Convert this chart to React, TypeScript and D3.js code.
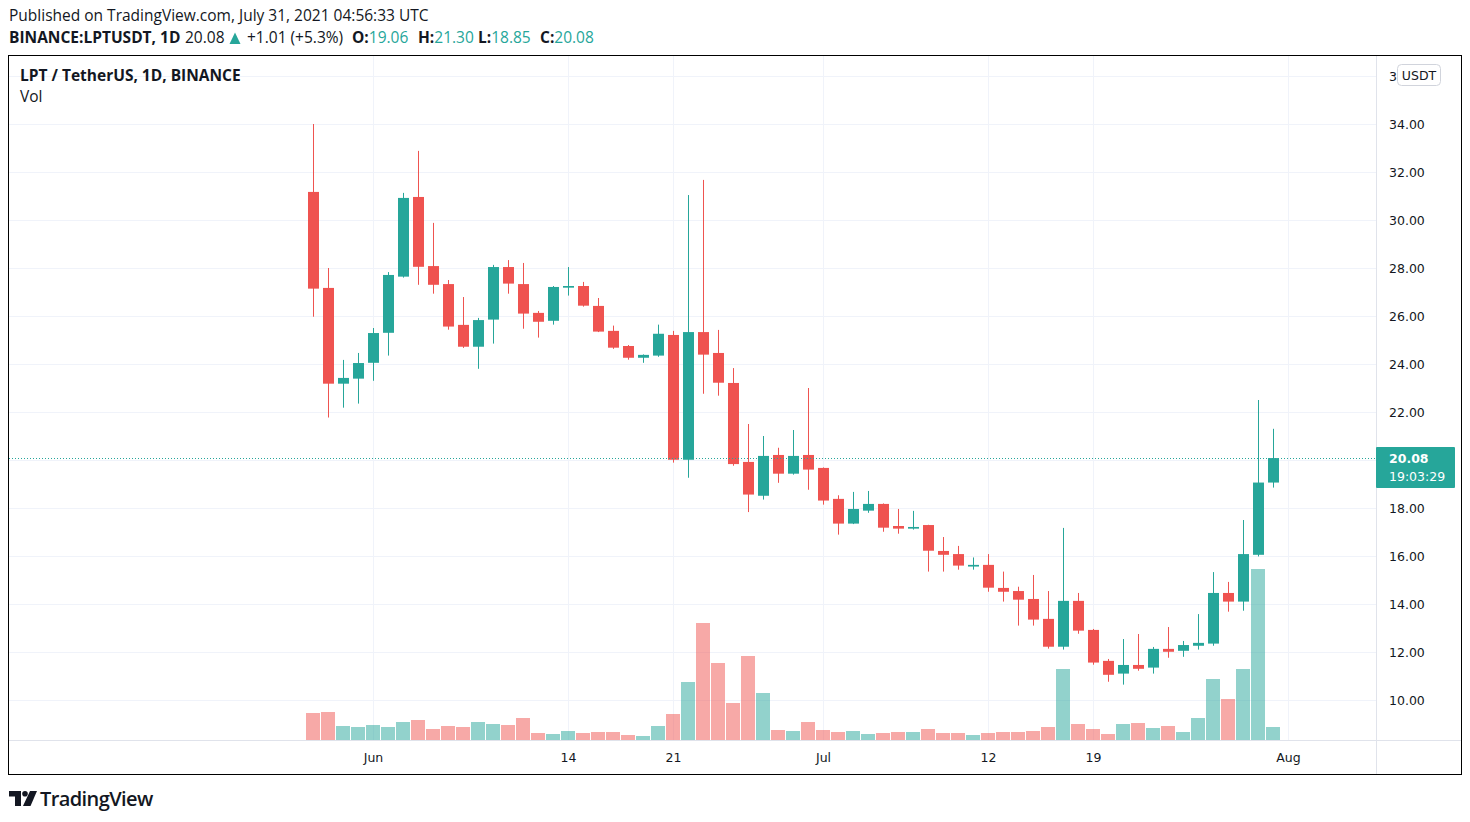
import React from "react";
import * as d3 from "d3";

const startDate = "2021-05-28";
const opens = [31.17,27.17,23.18,23.39,24.05,25.3,27.64,30.96,28.08,27.33,25.63,24.72,25.85,28.04,27.33,26.13,25.8,27.18,27.25,26.42,25.38,24.75,24.26,24.35,25.21,20.01,25.33,24.46,23.21,19.92,18.51,20.21,19.43,20.21,19.67,18.38,17.35,17.89,18.17,17.25,17.14,17.29,16.21,16.08,15.56,15.63,14.67,14.54,14.21,13.38,12.22,14.13,12.92,11.63,11.1,11.46,11.35,12.13,12.05,12.26,12.35,14.46,14.1,16.05,19.06];
const highs = [34.0,28.0,24.17,24.46,25.5,27.83,31.13,32.88,29.88,27.5,26.79,25.92,28.13,28.33,28.21,26.21,27.25,28.04,27.42,26.75,25.6,24.79,24.4,25.64,25.38,31.04,31.67,25.42,23.83,21.5,21.0,20.51,21.25,23.0,19.69,18.53,18.67,18.71,18.19,17.96,17.88,17.3,16.79,16.42,15.94,16.08,15.35,14.72,15.21,14.54,17.17,14.46,12.96,11.71,12.54,12.75,12.21,13.04,12.46,13.58,15.33,14.92,17.5,22.5,21.3];
const lows = [25.97,21.77,22.18,22.35,23.3,24.35,27.6,27.3,26.93,25.43,24.67,23.8,24.85,26.93,25.47,25.1,25.64,26.85,26.39,25.33,24.63,24.18,24.05,24.3,19.89,19.26,22.76,22.68,19.76,17.83,18.35,19.05,19.39,18.76,18.14,16.89,17.33,17.8,17.01,16.93,17.1,15.35,15.35,15.43,15.43,14.51,14.1,13.1,13.1,12.14,12.1,12.76,11.47,10.76,10.64,11.22,11.1,11.76,11.8,12.1,12.26,13.68,13.72,15.98,18.85];
const closes = [27.14,23.18,23.42,24.04,25.29,27.71,30.92,28.05,27.3,25.56,24.72,25.83,28.04,27.35,26.1,25.76,27.21,27.25,26.43,25.35,24.68,24.26,24.38,25.26,20.01,25.33,24.39,23.22,19.83,18.56,20.17,19.43,20.17,19.6,18.31,17.35,17.96,18.17,17.18,17.14,17.21,16.22,16.05,15.6,15.63,14.68,14.51,14.18,13.35,12.22,14.13,12.89,11.56,11.05,11.46,11.3,12.13,12.01,12.29,12.38,14.46,14.1,16.08,19.06,20.08];
const volumesK = [81,84,42,39,45,39,54,60,33,42,39,54,48,45,66,21,18,27,21,24,24,15,12,42,78,174,351,231,111,252,141,30,27,54,30,24,27,18,21,24,24,33,21,21,15,21,24,24,27,39,213,48,33,18,48,51,36,42,24,66,183,123,213,513,39];

const priceTicks = [10,12,14,16,18,20,22,24,26,28,30,32,34];
const timeTickDates = ["2021-06-01","2021-06-14","2021-06-21","2021-07-01","2021-07-12","2021-07-19","2021-08-01"];
const timeTickLabels = ["Jun","14","21","Jul","12","19","Aug"];
const lastPrice = 20.08;
const lastTimer = "19:03:29";

const GREEN = "#26a69a";
const RED = "#ef5350";
const GREEN_V = "rgba(38,166,154,0.5)";
const RED_V = "rgba(239,83,80,0.5)";
const GRID = "#f0f3fa";
const TEXT = "#131722";
const UI_FONT = "'Open Sans', 'Noto Sans', sans-serif";
const AXIS_FONT = "'DejaVu Sans', sans-serif";
const HF = 15.5;

export default function App() {
  const parse = d3.utcParse("%Y-%m-%d");
  const d0 = parse(startDate) as Date;
  const dates = opens.map((_, i) => d3.utcDay.offset(d0, i));

  const paneLeft = 9, paneRight = 1376, paneTop = 56, paneBottom = 740;

  const x = d3.scaleUtc()
    .domain([d0, dates[dates.length - 1]])
    .range([313.5, 313.5 + (dates.length - 1) * 15]);
  const y = d3.scaleLinear().domain([10, 34]).range([700, 124]);
  const yV = d3.scaleLinear().domain([0, d3.max(volumesK) as number]).range([paneBottom, 569]);

  const tickDates = timeTickDates.map((s) => parse(s) as Date);
  const lastY = Math.round(y(lastPrice));

  return (
    <div style={{ position: "absolute", left: 0, top: 0 }}>
      <svg width={1470} height={822} style={{ display: "block", background: "#fff" }}>
        <rect x={0} y={0} width={1470} height={822} fill="#fff" />
        {/* header */}
        <text x={9} y={21} fontFamily={UI_FONT} fontSize={HF} fill={TEXT}>
          Published on TradingView.com, July 31, 2021 04:56:33 UTC
        </text>
        <g fontFamily={UI_FONT} fontSize={HF} fill={TEXT}>
          <text x={9} y={43} fontWeight="bold">BINANCE:LPTUSDT, 1D</text>
          <text x={185} y={43}>20.08</text>
          <text x={247} y={43}>+1.01 (+5.3%)</text>
          <text x={352} y={43} fontWeight="bold">O:<tspan fontWeight="normal" fill={GREEN}>19.06</tspan></text>
          <text x={418} y={43} fontWeight="bold">H:<tspan fontWeight="normal" fill={GREEN}>21.30</tspan></text>
          <text x={478} y={43} fontWeight="bold">L:<tspan fontWeight="normal" fill={GREEN}>18.85</tspan></text>
          <text x={540} y={43} fontWeight="bold">C:<tspan fontWeight="normal" fill={GREEN}>20.08</tspan></text>
        </g>
        <path d="M229.5,44 L235,32.5 L240.5,44 Z" fill={GREEN} />

        {/* grid */}
        <clipPath id="pane">
          <rect x={paneLeft} y={paneTop} width={paneRight - paneLeft} height={paneBottom - paneTop} />
        </clipPath>
        <g clipPath="url(#pane)">
          {[...priceTicks, 36].map((p) => (
            <line key={"h" + p} x1={paneLeft} x2={paneRight} y1={Math.round(y(p)) + 0.5} y2={Math.round(y(p)) + 0.5} stroke={GRID} />
          ))}
          {tickDates.map((d, i) => (
            <line key={"v" + i} x1={Math.round(x(d)) - 0.5} x2={Math.round(x(d)) - 0.5} y1={paneTop} y2={paneBottom} stroke={GRID} />
          ))}
          {/* volumes */}
          {volumesK.map((v, i) => {
            const cx = x(dates[i]);
            const up = closes[i] >= opens[i];
            return (
              <rect key={"vol" + i} x={cx - 7.5} y={yV(v)} width={14} height={paneBottom - yV(v)} fill={up ? GREEN_V : RED_V} />
            );
          })}
          {/* candles */}
          {opens.map((o, i) => {
            const c = closes[i];
            const cx = x(dates[i]);
            const up = c >= o;
            const col = up ? GREEN : RED;
            const top = y(Math.max(o, c));
            const bot = y(Math.min(o, c));
            return (
              <g key={"c" + i}>
                <line x1={cx} x2={cx} y1={y(highs[i])} y2={y(lows[i])} stroke={col} strokeWidth={1} />
                <rect x={cx - 5.5} y={top} width={11} height={Math.max(1, bot - top)} fill={col} />
              </g>
            );
          })}
          {/* last price line */}
          <line x1={paneLeft} x2={paneRight} y1={lastY + 0.5} y2={lastY + 0.5} stroke={GREEN} strokeDasharray="1 2" />
        </g>

        {/* legend */}
        <text x={20} y={81} fontFamily={UI_FONT} fontSize={HF} fontWeight="bold" fill={TEXT}>LPT / TetherUS, 1D, BINANCE</text>
        <text x={20} y={102} fontFamily={UI_FONT} fontSize={HF} fill={TEXT}>Vol</text>

        {/* axes separators */}
        <line x1={paneRight + 0.5} x2={paneRight + 0.5} y1={55} y2={775} stroke="#e0e3eb" />
        <line x1={8} x2={1462} y1={paneBottom + 0.5} y2={paneBottom + 0.5} stroke="#e0e3eb" />

        {/* price axis labels (the one under the last-price box is hidden) */}
        {priceTicks.filter((p) => Math.abs(y(p) - lastY) > 22).map((p) => (
          <text key={"pl" + p} x={1389} y={y(p) + 4.5} fontFamily={AXIS_FONT} fontSize={12.5} fill={TEXT}>
            {p.toFixed(2)}
          </text>
        ))}
        <text x={1389} y={y(36) + 4.5} fontFamily={AXIS_FONT} fontSize={12.5} fill={TEXT}>3</text>
        <rect x={1397.5} y={64.5} width={43} height={21} rx={4} fill="#fff" stroke="#d1d4dc" />
        <text x={1419} y={79.5} textAnchor="middle" fontFamily={AXIS_FONT} fontSize={12.5} fill={TEXT}>USDT</text>

        {/* current price label */}
        <rect x={1376} y={447} width={79} height={41} fill={GREEN} rx={1} />
        <text x={1389} y={463} fontFamily={AXIS_FONT} fontSize={12.5} fontWeight="bold" fill="#fff">{lastPrice.toFixed(2)}</text>
        <text x={1389} y={481} fontFamily={AXIS_FONT} fontSize={12.5} fill="#fff">{lastTimer}</text>

        {/* time axis */}
        {tickDates.map((d, i) => (
          <text key={"tl" + i} x={x(d)} y={762} textAnchor="middle" fontFamily={AXIS_FONT} fontSize={12.5} fill={TEXT}>
            {timeTickLabels[i]}
          </text>
        ))}

        {/* frame */}
        <rect x={8.5} y={55.5} width={1453} height={719} fill="none" stroke="#000" strokeWidth={1} />

        {/* footer logo */}
        <g transform="translate(9,791)" fill={TEXT}>
          <path d="M0,0 H12 V15 H6 V5.5 H0 Z" />
          <circle cx={16} cy={2.8} r={2.8} />
          <path d="M21,0 H28 L21.5,15 H14 Z" />
        </g>
        <text x={40} y={806} fontFamily={UI_FONT} fontSize={20} fontWeight={600} fill={TEXT} letterSpacing={-0.6}>TradingView</text>
      </svg>
    </div>
  );
}
